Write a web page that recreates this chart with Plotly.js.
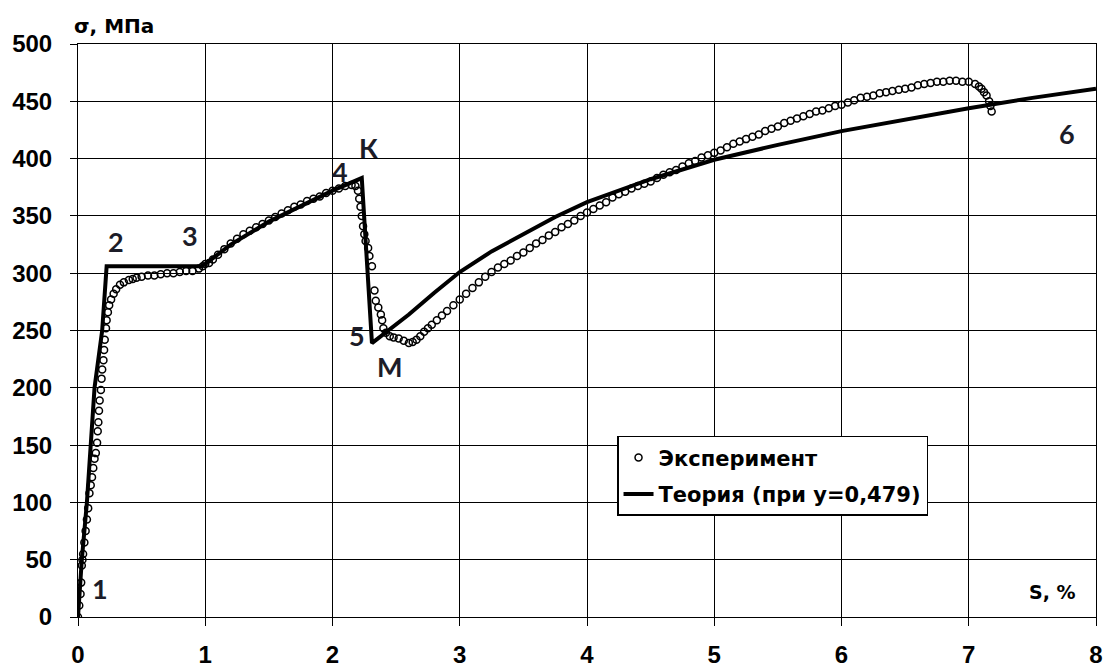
<!DOCTYPE html>
<html><head><meta charset="utf-8">
<script src="https://cdn.plot.ly/plotly-3.0.1.min.js"></script>
<style>html,body{margin:0;padding:0;background:#fff}#chart{width:1105px;height:671px}</style>
</head><body><div id="chart"></div>
<script>
// Experimental data (strain S, %; stress σ, MPa)
const expS = [0,0.01,0.02,0.025,0.03,0.035,0.04,0.05,0.06,0.07,0.08,0.09,0.1,0.11,0.12,0.13,0.14,0.15,0.155,0.16,0.165,0.17,0.18,0.185,0.19,0.2,0.205,0.21,0.22,0.225,0.235,0.245,0.26,0.28,0.3,0.33,0.36,0.4,0.43,0.46,0.5,0.55,0.6,0.65,0.7,0.75,0.8,0.85,0.9,0.95,0.98,1.0,1.03,1.06,1.1,1.15,1.2,1.25,1.3,1.35,1.4,1.45,1.5,1.55,1.6,1.65,1.7,1.75,1.8,1.85,1.9,1.95,2.0,2.05,2.1,2.15,2.18,2.2,2.21,2.22,2.23,2.24,2.25,2.26,2.28,2.29,2.31,2.33,2.34,2.36,2.38,2.39,2.4,2.42,2.45,2.48,2.52,2.56,2.6,2.63,2.66,2.69,2.72,2.75,2.78,2.82,2.86,2.9,2.95,3.0,3.05,3.1,3.15,3.2,3.25,3.3,3.35,3.4,3.45,3.5,3.55,3.6,3.65,3.7,3.75,3.8,3.85,3.9,3.95,4.0,4.05,4.1,4.15,4.2,4.25,4.3,4.35,4.4,4.45,4.5,4.55,4.6,4.65,4.7,4.75,4.8,4.85,4.9,4.95,5.0,5.05,5.1,5.15,5.2,5.25,5.3,5.35,5.4,5.45,5.5,5.55,5.6,5.65,5.7,5.75,5.8,5.85,5.9,5.95,6.0,6.05,6.1,6.15,6.2,6.25,6.3,6.35,6.4,6.45,6.5,6.55,6.6,6.65,6.7,6.75,6.8,6.85,6.9,6.95,7.0,7.05,7.08,7.1,7.12,7.14,7.16,7.17,7.18];
const expSigma = [0,10,20,30,45,50,55,65,75,85,95,108,115,122,130,138,143,152,162,170,180,189,198,208,216,224,233,242,252,259,266,272,277,282,286,290,292,294,295,296,297,298,298,299,300,300,301,302,302,304,306,308,309,312,316,321,326,330,334,337,340,343,346,349,352,355,358,360,363,365,367,370,372,374,376,377,376,372,365,358,350,341,334,328,322,315,306,285,276,270,264,259,252,248,245,244,243,241,239,240,242,245,249,252,255,259,263,267,272,277,282,287,292,297,301,305,308,311,315,318,322,326,329,333,336,340,343,346,350,353,356,359,362,366,369,371,374,376,378,380,383,386,388,390,393,396,398,401,403,405,407,410,413,415,417,419,421,424,426,428,431,433,435,437,439,441,442,444,446,447,449,451,453,454,455,457,458,459,460,461,462,464,465,466,467,467,468,468,467,467,465,463,461,458,455,450,446,441];

// Theory curve (y = 0.479)
const theoryS = [0,0.03,0.07,0.13,0.19,0.225,0.97,1.0,1.2,1.5,2.0,2.23,2.31,2.4,2.6,2.8,3.0,3.25,3.5,3.75,4.0,4.5,5.0,5.5,6.0,6.5,7.0,7.5,8.0];
const theorySigma = [0,50,100,200,250,306,306,308,325,345,372,383,239,247,264,283,301,319,334,349,362,382,399,412,424,434,444,453,461];

// Point labels
const labelText = ["1","2","3","4","К","5","М","6"];
const labelS = [0.17,0.30,0.88,2.06,2.28,2.19,2.45,7.77];
const labelSigma = [25,328,333,389,410,246,219,422];

const xTicks = [0,1,2,3,4,5,6,7,8];
const yTicks = [0,50,100,150,200,250,300,350,400,450,500];

const traces = [
  {x: expS, y: expSigma, mode: 'markers', type: 'scatter', name: 'Эксперимент', legendgroup: 'a',
   marker: {symbol: 'circle-open', size: 7, color: '#000', line: {width: 1.5, color: '#000'}}},
  {x: theoryS, y: theorySigma, mode: 'lines', type: 'scatter', name: 'Теория (при y=0,479)', legendgroup: 'b',
   line: {color: '#000', width: 4}}
];

const annotations = labelText.map((t, i) => ({
  x: labelS[i], y: labelSigma[i], xref: 'x', yref: 'y', text: t, showarrow: false,
  font: {family: 'Lato, Arial, sans-serif', size: 27, color: '#1c1c28', weight: 'bold'}
}));
annotations.push({x: 7.66, y: 22, xref: 'x', yref: 'y', text: '<b>S, %</b>', showarrow: false,
  font: {family: 'DejaVu Sans, Arial, sans-serif', size: 19, color: '#000'}});
annotations.push({x: -0.006, y: 1.032, xref: 'paper', yref: 'paper', xanchor: 'left', yanchor: 'middle',
  text: '<b>σ, МПа</b>', showarrow: false,
  font: {family: 'DejaVu Sans, Arial, sans-serif', size: 20, color: '#000'}});

const layout = {
  width: 1105, height: 671,
  margin: {l: 78, r: 9, t: 44, b: 54},
  paper_bgcolor: '#fff', plot_bgcolor: '#fff',
  showlegend: true,
  legend: {x: 0.5295, y: 0.316, xanchor: 'left', yanchor: 'top',
    bgcolor: '#fff', bordercolor: '#000', borderwidth: 1.5, tracegroupgap: 6,
    font: {family: 'DejaVu Sans, Arial, sans-serif', size: 21, color: '#000', weight: 'bold'}},
  xaxis: {range: [0, 8], tickvals: xTicks, ticktext: xTicks.map(String),
    showgrid: true, gridcolor: '#000', gridwidth: 1, zeroline: false,
    showline: true, linecolor: '#000', linewidth: 1, mirror: true,
    ticks: 'outside', ticklen: 8, tickcolor: '#000', ticklabelstandoff: 8,
    tickfont: {family: 'Liberation Sans, Arial, sans-serif', size: 24, color: '#000', weight: 'bold'}},
  yaxis: {range: [0, 500], tickvals: yTicks, ticktext: yTicks.map(String),
    showgrid: true, gridcolor: '#000', gridwidth: 1, zeroline: false,
    showline: true, linecolor: '#000', linewidth: 1, mirror: true,
    ticks: 'outside', ticklen: 7, tickcolor: '#000', ticklabelstandoff: 13,
    tickfont: {family: 'Liberation Sans, Arial, sans-serif', size: 24, color: '#000', weight: 'bold'}},
  annotations: annotations
};

Plotly.newPlot('chart', traces, layout, {displayModeBar: false, staticPlot: true});
</script></body></html>
